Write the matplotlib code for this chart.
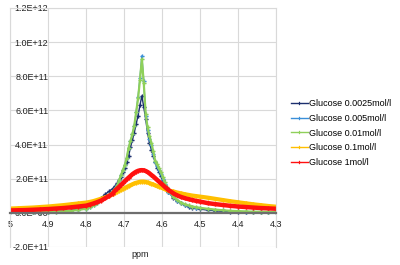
import numpy as np
import matplotlib
matplotlib.use('Agg')
import matplotlib.pyplot as plt

plt.rcParams['font.family'] = ['Liberation Sans', 'DejaVu Sans']

# chemical shift grid (ppm), finer around the peak
ppm = [5.00, 4.98, 4.96, 4.94, 4.92, 4.90, 4.88, 4.86, 4.84, 4.82, 4.80,
       4.79, 4.78, 4.77, 4.76, 4.75, 4.74, 4.73,
       4.723, 4.718, 4.713, 4.708, 4.703, 4.698, 4.693, 4.688, 4.683, 4.678,
       4.673, 4.668, 4.663, 4.658, 4.653, 4.648, 4.643, 4.638, 4.633, 4.628,
       4.623, 4.618, 4.613, 4.608, 4.603, 4.598, 4.593, 4.588, 4.583,
       4.57, 4.56, 4.55, 4.54, 4.53, 4.52, 4.51, 4.50,
       4.48, 4.46, 4.44, 4.42, 4.40, 4.38, 4.36, 4.34, 4.32, 4.30]

# intensities in units of 1E+11
g0025 = [0.03, 0.035, 0.04, 0.045, 0.05, 0.06, 0.08, 0.10, 0.14, 0.20, 0.29,
         0.40, 0.53, 0.70, 0.88, 1.08, 1.25, 1.42,
         1.58, 1.72, 1.90, 2.12, 2.38, 2.65, 2.95, 3.30, 3.85, 4.25,
         4.70, 5.20, 5.70, 6.30, 6.85, 6.20, 5.50, 4.70, 4.10, 3.70,
         3.35, 2.95, 2.65, 2.40, 2.15, 1.90, 1.65, 1.42, 1.22,
         0.88, 0.68, 0.55, 0.45, 0.37, 0.31, 0.26, 0.22,
         0.16, 0.12, 0.09, 0.07, 0.06, 0.05, 0.04, 0.03, 0.03, 0.02]
g005 = [0.03, 0.035, 0.04, 0.045, 0.05, 0.06, 0.07, 0.09, 0.12, 0.17, 0.25,
        0.33, 0.44, 0.59, 0.76, 0.93, 1.07, 1.27,
        1.44, 1.62, 1.90, 2.20, 2.50, 2.80, 3.20, 3.80, 4.20, 4.60,
        5.10, 5.90, 6.80, 7.90, 9.20, 7.70, 5.70, 4.85, 4.35, 3.95,
        3.45, 2.95, 2.72, 2.48, 2.27, 1.98, 1.70, 1.42, 1.22,
        0.90, 0.70, 0.56, 0.47, 0.40, 0.35, 0.31, 0.27,
        0.22, 0.17, 0.14, 0.11, 0.09, 0.07, 0.06, 0.05, 0.04, 0.03]
g01 = [0.03, 0.035, 0.04, 0.045, 0.05, 0.06, 0.07, 0.09, 0.12, 0.17, 0.24,
       0.32, 0.43, 0.58, 0.75, 0.92, 1.05, 1.25,
       1.42, 1.60, 1.90, 2.20, 2.50, 2.80, 3.20, 3.80, 4.20, 4.60,
       5.10, 5.90, 6.70, 7.80, 9.00, 7.60, 5.80, 5.00, 4.50, 4.10,
       3.60, 3.05, 2.85, 2.60, 2.40, 2.10, 1.80, 1.50, 1.30,
       0.95, 0.75, 0.60, 0.50, 0.43, 0.37, 0.33, 0.29,
       0.24, 0.19, 0.15, 0.12, 0.10, 0.08, 0.07, 0.06, 0.05, 0.04]
g1 = [0.25, 0.27, 0.29, 0.31, 0.34, 0.37, 0.41, 0.45, 0.50, 0.55, 0.60,
      0.64, 0.69, 0.76, 0.83, 0.90, 0.99, 1.08,
      1.17, 1.23, 1.29, 1.34, 1.39, 1.45, 1.51, 1.57, 1.62, 1.67,
      1.72, 1.76, 1.79, 1.82, 1.83, 1.83, 1.81, 1.78, 1.74, 1.70,
      1.66, 1.61, 1.57, 1.53, 1.49, 1.44, 1.39, 1.35, 1.31,
      1.25, 1.19, 1.14, 1.09, 1.05, 1.01, 0.98, 0.95,
      0.89, 0.82, 0.75, 0.68, 0.62, 0.56, 0.50, 0.45, 0.40, 0.36]
g10 = [0.14, 0.15, 0.16, 0.18, 0.20, 0.22, 0.25, 0.28, 0.32, 0.37, 0.42,
       0.48, 0.55, 0.63, 0.72, 0.85, 0.98, 1.12,
       1.32, 1.42, 1.52, 1.63, 1.74, 1.85, 1.96, 2.06, 2.16, 2.26,
       2.34, 2.41, 2.46, 2.49, 2.50, 2.49, 2.45, 2.39, 2.31, 2.22,
       2.13, 2.03, 1.93, 1.83, 1.73, 1.63, 1.53, 1.43, 1.34,
       1.14, 1.02, 0.93, 0.86, 0.80, 0.75, 0.70, 0.66,
       0.57, 0.51, 0.46, 0.41, 0.37, 0.34, 0.31, 0.28, 0.26, 0.24]

labels = ['Glucose 0.0025mol/l', 'Glucose 0.005mol/l', 'Glucose 0.01mol/l',
          'Glucose 0.1mol/l', 'Glucose 1mol/l']
series = [g0025, g005, g01, g1, g10]
colors = ['#1c2f6e', '#3a8fd9', '#8fd05a', '#ffbf00', '#ff1010']
widths = [1.0, 1.0, 1.6, 3.0, 3.2]

xticks = [5, 4.9, 4.8, 4.7, 4.6, 4.5, 4.4, 4.3]
yticks = [-2e11, 0, 2e11, 4e11, 6e11, 8e11, 1e12, 1.2e12]

fig = plt.figure(figsize=(4, 2.65), dpi=100)
ax = fig.add_axes([0.025, 0.068, 0.665, 0.902])

for s, lab, c, w in zip(series, labels, colors, widths):
    ax.plot(ppm, np.array(s) * 1e11, color=c, lw=w, marker='P', ms=3,
            mew=0, label=lab)

ax.set_xlim(5, 4.3)
ax.set_ylim(-2e11, 1.2e12)
ax.set_xticks(xticks)
ax.set_xticklabels(['5' if t == 5 else '%.1f' % t for t in xticks])
ax.set_yticks(yticks)
ax.set_yticklabels(['%.1E' % t for t in yticks])
ax.grid(True, color='#d9d9d9', lw=0.8)
ax.set_axisbelow(True)

for side in ['top', 'right', 'left']:
    ax.spines[side].set_color('#d9d9d9')
ax.spines['bottom'].set_position(('data', 0))
ax.spines['bottom'].set_color('#6e6e6e')
ax.spines['bottom'].set_linewidth(1.6)

ax.tick_params(axis='both', length=0, labelsize=6.5, colors='#222222')
ax.tick_params(axis='x', pad=5)
ax.tick_params(axis='y', pad=-27.5)
for t in ax.get_yticklabels():
    t.set_horizontalalignment('right')

ax.text(0.49, -0.03, 'ppm', transform=ax.transAxes, ha='center',
        va='center', fontsize=6.5, color='#222222')

fig.legend(loc='upper left', bbox_to_anchor=(0.727, 0.625), frameon=False,
           fontsize=6.5, borderpad=0, borderaxespad=0, handlelength=1.9,
           handletextpad=0.15, labelspacing=0.62, markerscale=0.8)
leg = fig.legends[0]
for h in leg.legend_handles:
    h.set_linewidth(1.0)

fig.savefig('out.png', dpi=100)
